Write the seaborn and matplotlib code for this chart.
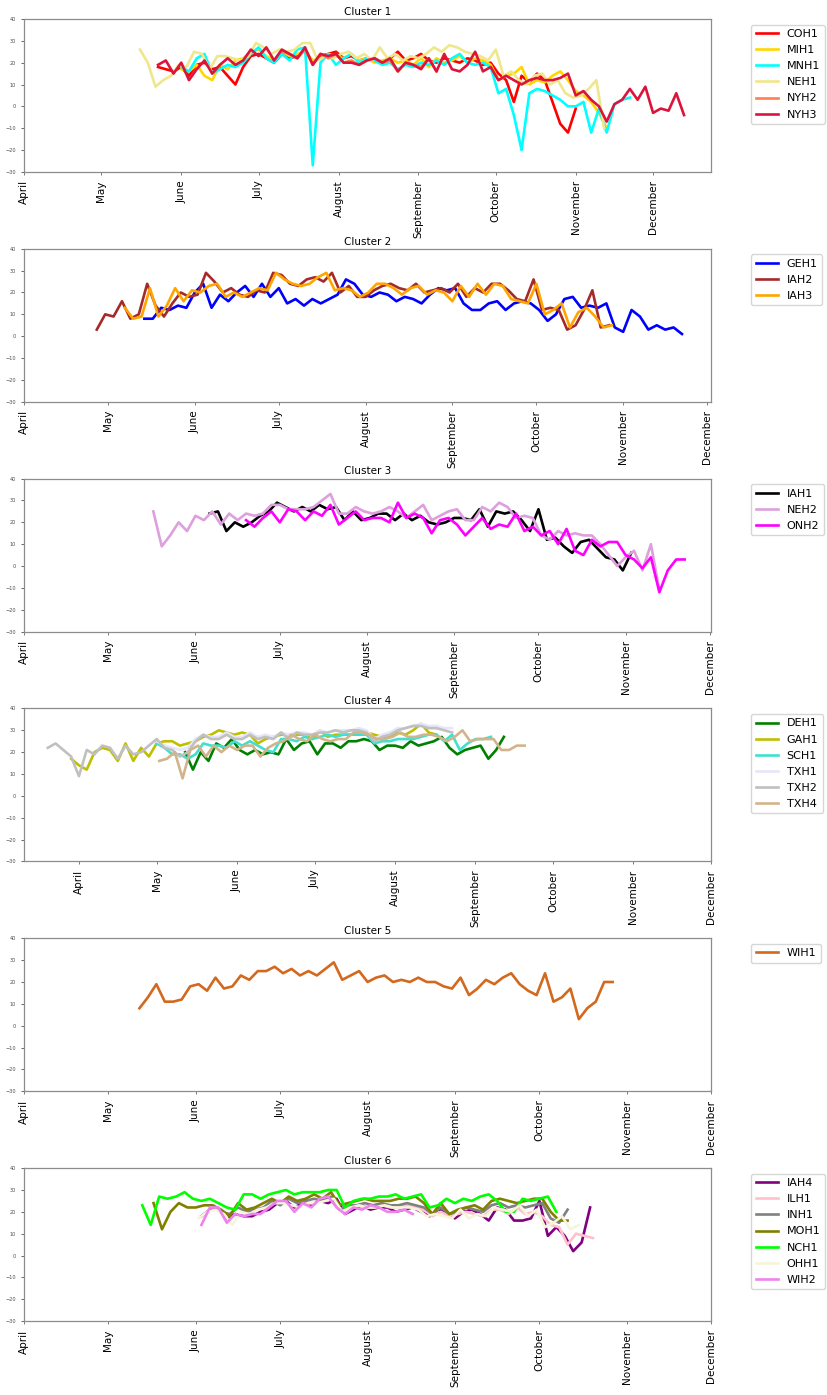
import pandas as pd
import matplotlib
matplotlib.use("Agg")
import matplotlib.pyplot as plt
from matplotlib.lines import Line2D
import seaborn as sns

YEAR = 2018
STEP = "3D"  # readings are every third day

# ---- Cluster 1 -------------------------------------------------------------
COH1_START = "05-23"
COH1 = [18, 17, 16, 18, 14, 19, 20, 17, 18, 14, 10, 18, 23, 24, 22, 20, 24, 22, 23, 26,
        20, 23, 24, 25, 22, 23, 21, 22, 21, 20, 22, 25, 21, 22, 24, 21, 20, 22, 21, 20,
        22, 21, 19, 20, 15, 12, 2, 14, 11, 15, 12, 2, -8, -12, -1]
MIH1_START = "06-01"
MIH1 = [17, 16, 19, 14, 12, 19, 17, 21, 22, 25, 26, 23, 21, 25, 23, 24, 25, 21, 22, 24,
        23, 22, 24, 21, 22, 20, 21, 22, 20, 21, 19, 22, 18, 22, 20, 21, 23, 20, 22, 21,
        19, 12, 14, 15, 18, 10, 12, 11, 14, 16, 12, 7, 5, 2, -3, -10]
MNH1_START = "06-01"
MNH1 = [18, 16, 22, 24, 15, 17, 19, 18, 20, 24, 27, 22, 20, 24, 21, 26, 27, -27, 20, 24,
        19, 22, 24, 20, 22, 21, 19, 20, 17, 19, 18, 20, 19, 21, 19, 22, 24, 20, 19, 20,
        18, 6, 8, -4, -20, 6, 8, 7, 5, 3, 0, 0, 2, -12, -1, -12, 1, 3, 4]
NEH1_START = "05-16"
NEH1 = [26, 20, 9, 12, 14, 19, 18, 25, 24, 17, 23, 23, 22, 21, 23, 29, 27, 24, 26, 25,
        26, 29, 29, 21, 23, 22, 24, 25, 22, 24, 21, 27, 22, 24, 21, 23, 22, 24, 27, 25,
        28, 27, 25, 24, 23, 21, 26, 14, 16, 12, 10, 14, 15, 10, 12, 6, 4, 5, 8, 12, -10]
NYH2_START = "07-10"
NYH2 = [25, 24, 22, 26, 19, 24, 22, 24, 20, 21, 19, 21, 22, 20, 21, 16, 20, 19, 18, 22, 16]
NYH3_START = "05-23"
NYH3 = [19, 21, 15, 20, 12, 17, 21, 15, 19, 22, 19, 21, 26, 23, 27, 21, 26, 24, 22, 27,
        19, 24, 23, 24, 20, 20, 19, 21, 22, 20, 22, 16, 20, 19, 17, 22, 16, 24, 17, 16,
        19, 25, 16, 18, 12, 14, 12, 10, 12, 13, 12, 12, 13, 15, 5, 7, 3, 0, -7, 1,
        3, 8, 3, 9, -3, -1, -2, 6, -4]

# ---- Cluster 2 -------------------------------------------------------------
GEH1_START = "05-14"
GEH1 = [8, 8, 13, 12, 14, 13, 20, 24, 13, 19, 16, 20, 23, 18, 24, 18, 22, 15, 17, 14,
        17, 15, 17, 19, 26, 24, 19, 18, 20, 19, 16, 18, 17, 15, 19, 22, 21, 22, 15, 12,
        12, 15, 16, 12, 15, 16, 15, 12, 7, 10, 17, 18, 13, 14, 13, 15, 4, 2, 12, 9,
        3, 5, 3, 4, 1]
IAH2_START = "04-27"
IAH2 = [3, 10, 9, 16, 8, 10, 24, 14, 9, 15, 20, 18, 19, 29, 25, 20, 22, 19, 18, 21,
        20, 29, 28, 24, 23, 26, 27, 25, 29, 20, 23, 18, 18, 21, 23, 24, 22, 21, 24, 20,
        21, 22, 20, 24, 18, 22, 20, 24, 24, 21, 17, 16, 26, 12, 13, 12, 3, 5, 12, 21,
        4, 5]
IAH3_START = "05-07"
IAH3 = [13, 8, 9, 22, 9, 14, 22, 16, 21, 20, 23, 24, 18, 20, 18, 20, 22, 21, 29, 26,
        24, 23, 24, 27, 29, 21, 22, 21, 18, 20, 24, 24, 22, 19, 22, 23, 19, 21, 20, 16,
        23, 18, 24, 19, 24, 23, 17, 16, 15, 24, 10, 12, 15, 4, 11, 13, 9, 4, 5]

# ---- Cluster 3 -------------------------------------------------------------
IAH1_START = "06-06"
IAH1 = [24, 25, 16, 20, 18, 20, 23, 25, 29, 27, 25, 27, 25, 28, 26, 27, 21, 25, 21, 22,
        24, 24, 21, 24, 21, 23, 20, 19, 20, 22, 22, 21, 26, 18, 25, 24, 25, 21, 16, 26,
        12, 13, 9, 6, 11, 12, 8, 4, 3, -2, 6]
NEH2_START = "05-17"
NEH2 = [25, 9, 14, 20, 16, 23, 21, 25, 19, 24, 21, 24, 23, 24, 28, 28, 26, 26, 26, 27,
        30, 33, 24, 24, 27, 25, 24, 25, 27, 25, 22, 25, 28, 21, 23, 25, 26, 21, 21, 27,
        25, 29, 27, 22, 23, 22, 14, 12, 16, 14, 15, 14, 14, 10, 5, 0, 4, 7, -2, 10, -11]
ONH2_START = "06-19"
ONH2 = [21, 18, 22, 25, 20, 26, 25, 21, 25, 23, 28, 19, 22, 25, 21, 22, 22, 20, 29, 22,
        24, 22, 15, 21, 22, 19, 14, 18, 22, 17, 19, 18, 24, 16, 18, 14, 16, 10, 17, 7,
        5, 12, 9, 11, 11, 5, 3, -1, 4, -12, -2, 3, 3]

# ---- Cluster 4 -------------------------------------------------------------
DEH1_START = "05-12"
DEH1 = [20, 12, 20, 16, 24, 22, 26, 21, 19, 21, 19, 20, 19, 26, 21, 24, 25, 19, 24, 24,
        22, 25, 25, 26, 25, 21, 23, 23, 22, 25, 23, 24, 25, 27, 22, 19, 21, 22, 23, 17,
        21, 27]
GAH1_START = "03-29"
GAH1 = [17, 14, 12, 20, 22, 21, 16, 24, 16, 22, 18, 24, 25, 25, 23, 24, 25, 27, 28, 30,
        29, 28, 29, 28, 24, 26, 27, 28, 28, 28, 28, 26, 30, 27, 28, 28, 28, 29, 29, 28,
        27, 27, 29, 28, 30, 33, 29, 28]
SCH1_START = "05-01"
SCH1 = [24, 22, 19, 19, 17, 19, 24, 23, 23, 22, 25, 23, 25, 23, 21, 20, 26, 26, 25, 27,
        26, 27, 28, 27, 28, 28, 28, 28, 24, 25, 25, 26, 26, 26, 27, 28, 28, 25, 28, 21,
        24, 26, 26, 27]
TXH1_START = "05-01"
TXH1 = [25, 23, 22, 21, 22, 26, 28, 27, 27, 29, 27, 27, 29, 27, 28, 27, 29, 28, 29, 29,
        28, 30, 29, 30, 30, 30, 31, 30, 26, 28, 29, 31, 31, 32, 33, 32, 32, 31, 31]
TXH2_START = "03-20"
TXH2 = [22, 24, 21, 18, 9, 21, 19, 23, 22, 17, 23, 19, 20, 23, 26, 22, 21, 18, 20, 25,
        28, 26, 26, 28, 26, 26, 28, 26, 27, 26, 29, 26, 29, 28, 28, 29, 29, 30, 29, 30,
        30, 29, 25, 27, 28, 30, 31, 32, 32, 31, 31, 30, 29]
TXH4_START = "05-02"
TXH4 = [16, 17, 20, 8, 21, 23, 18, 23, 20, 23, 21, 23, 23, 18, 22, 24, 25, 28, 26, 25,
        28, 26, 25, 26, 26, 29, 29, 28, 26, 26, 27, 29, 27, 27, 28, 28, 27, 25, 27, 30,
        25, 26, 26, 26, 21, 21, 23, 23]

# ---- Cluster 5 -------------------------------------------------------------
WIH1_START = "05-12"
WIH1 = [8, 13, 19, 11, 11, 12, 18, 19, 16, 22, 17, 18, 23, 21, 25, 25, 27, 24, 26, 23,
        25, 23, 26, 29, 21, 23, 25, 20, 22, 23, 20, 21, 20, 22, 20, 20, 18, 17, 22, 14,
        17, 21, 19, 22, 24, 19, 16, 14, 24, 11, 13, 17, 3, 8, 11, 20, 20]

# ---- Cluster 6 -------------------------------------------------------------
IAH4_START = "06-03"
IAH4 = [18, 21, 21, 17, 19, 18, 18, 20, 21, 24, 25, 22, 24, 23, 25, 24, 26, 19, 21, 23,
        21, 22, 22, 20, 21, 22, 20, 18, 21, 20, 17, 20, 21, 19, 16, 22, 21, 16, 16, 17,
        25, 9, 13, 9, 2, 6, 22]
ILH1_START = "07-10"
ILH1 = [24, 24, 25, 26, 21, 22, 23, 22, 22, 23, 22, 22, 23, 22, 21, 18, 20, 18, 19, 20,
        19, 18, 21, 21, 19, 22, 19, 20, 18, 14, 13, 5, 10, 9, 8]
INH1_START = "06-10"
INH1 = [20, 19, 22, 20, 21, 22, 25, 23, 26, 24, 25, 26, 25, 27, 21, 23, 23, 24, 23, 24,
        23, 23, 24, 23, 22, 19, 22, 19, 20, 22, 21, 20, 23, 24, 22, 23, 22, 23, 24, 17,
        15, 21]
MOH1_START = "05-17"
MOH1 = [24, 12, 20, 24, 22, 22, 23, 23, 21, 18, 24, 21, 22, 24, 26, 24, 27, 25, 26, 28,
        26, 29, 23, 24, 25, 26, 25, 25, 25, 26, 26, 27, 24, 19, 24, 19, 21, 22, 23, 21,
        25, 26, 25, 24, 25, 26, 26, 20, 16, 16]
NCH1_START = "05-13"
NCH1 = [23, 14, 27, 26, 27, 29, 26, 25, 26, 24, 22, 21, 28, 28, 26, 28, 29, 30, 28, 29,
        29, 29, 30, 30, 22, 25, 26, 26, 27, 27, 28, 26, 27, 28, 22, 23, 26, 24, 26, 25,
        27, 28, 25, 20, 20, 26, 25, 26, 27, 20]
OHH1_START = "06-02"
OHH1 = [17, 20, 21, 19, 14, 20, 19, 21, 22, 24, 24, 23, 22, 24, 24, 25, 26, 20, 22, 23,
        22, 22, 23, 22, 22, 22, 21, 18, 19, 18, 17, 21, 17, 19, 18, 22, 21, 20, 23, 18,
        21, 13, 15, 18, 12, 14]
WIH2_START = "06-03"
WIH2 = [14, 22, 22, 15, 19, 18, 19, 19, 22, 25, 25, 20, 24, 22, 26, 27, 22, 19, 22, 21,
        23, 22, 20, 20, 21, 19]

CLUSTERS = [
    ["COH1", "MIH1", "MNH1", "NEH1", "NYH2", "NYH3"],
    ["GEH1", "IAH2", "IAH3"],
    ["IAH1", "NEH2", "ONH2"],
    ["DEH1", "GAH1", "SCH1", "TXH1", "TXH2", "TXH4"],
    ["WIH1"],
    ["IAH4", "ILH1", "INH1", "MOH1", "NCH1", "OHH1", "WIH2"],
]

MONTHS = ["April", "May", "June", "July", "August", "September",
          "October", "November", "December"]

COLORS = {
    "COH1": "red", "MIH1": "gold", "MNH1": "cyan", "NEH1": "khaki",
    "NYH2": "coral", "NYH3": "crimson",
    "GEH1": "blue", "IAH2": "brown", "IAH3": "orange",
    "IAH1": "black", "NEH2": "plum", "ONH2": "magenta",
    "DEH1": "green", "GAH1": "y", "SCH1": "turquoise", "TXH1": "lavender",
    "TXH2": "silver", "TXH4": "tan",
    "WIH1": "chocolate",
    "IAH4": "purple", "ILH1": "pink", "INH1": "gray", "MOH1": "olive",
    "NCH1": "lime", "OHH1": "beige", "WIH2": "violet",
}

LINE_W = 1.9


def station_frame(name):
    values = globals()[name]
    start = pd.Timestamp(f"{YEAR}-{globals()[name + '_START']}")
    dates = pd.date_range(start, periods=len(values), freq=STEP)
    return pd.DataFrame({"date": dates, "temp": values, "station": name})


month_ticks = pd.date_range(f"{YEAR}-04-01", f"{YEAR}-12-01", freq="MS")

fig, axes = plt.subplots(len(CLUSTERS), 1, figsize=(8.27, 13.95), dpi=100)
fig.subplots_adjust(left=0.029, right=0.86, top=0.9864, bottom=0.053, hspace=0.503)

for i, (ax, names) in enumerate(zip(axes, CLUSTERS), start=1):
    df = pd.concat([station_frame(n) for n in names], ignore_index=True)
    sns.lineplot(data=df, x="date", y="temp", hue="station", hue_order=names,
                 palette={n: COLORS[n] for n in names}, linewidth=LINE_W,
                 legend=False, ax=ax)
    ax.set_ylim(-30, 40)
    ax.set_yticks(range(-30, 41, 10))
    lo, hi = ax.get_xlim()
    t0 = matplotlib.dates.date2num(month_ticks[0])
    t1 = matplotlib.dates.date2num(month_ticks[-1])
    ax.set_xlim(min(lo, t0), max(hi, t1))
    ax.set_xticks(month_ticks)
    ax.set_xticklabels(MONTHS, rotation=90, fontsize=7.5)
    ax.tick_params(axis="y", labelsize=3.6, length=2.5, width=0.6, colors="0.3")
    ax.tick_params(axis="x", length=2.5, width=0.6, color="0.4", labelcolor="black")
    ax.set_xlabel("")
    ax.set_ylabel("")
    ax.set_title(f"Cluster {i}", fontsize=7.5, pad=3)
    for spine in ax.spines.values():
        spine.set_color("0.55")
        spine.set_linewidth(0.9)
    handles = [Line2D([], [], color=COLORS[n], linewidth=LINE_W) for n in names]
    ax.legend(handles, names, loc="upper left", bbox_to_anchor=(1.05, 1),
              fontsize=8.0, frameon=True, labelspacing=0.55)

fig.savefig("out.png", dpi=100)
